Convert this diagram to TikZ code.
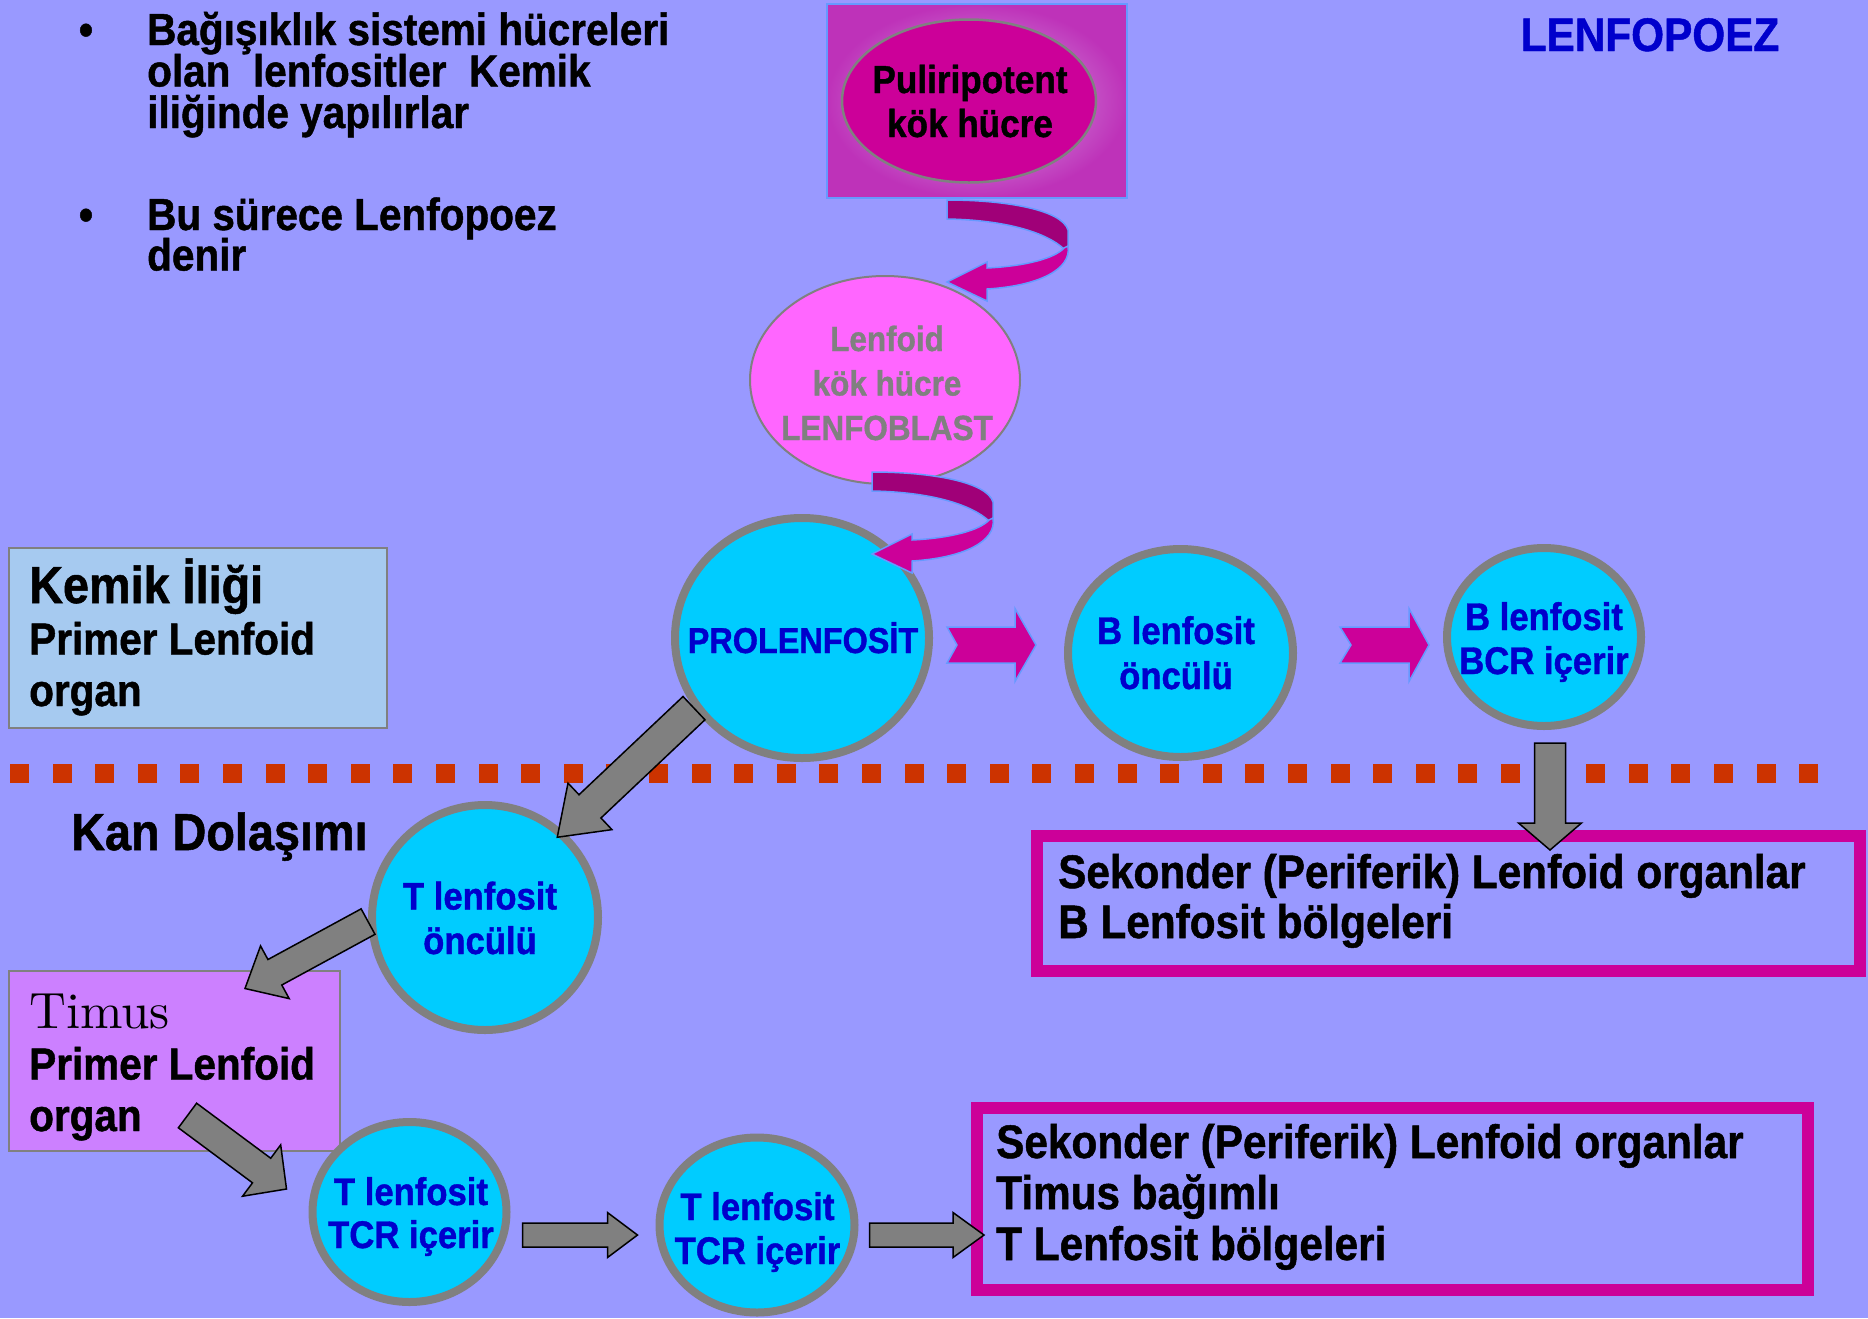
\documentclass[tikz,border=0pt]{standalone}
\usepackage{fontspec}
\setmainfont{Liberation Sans}[FakeStretch=0.9, BoldFeatures={FakeBold=1}]
\newfontfamily\lmfont{lmroman10-regular.otf}
\usepackage{tikz}
\usetikzlibrary{shapes.geometric, calc}

\definecolor{bgblue}{RGB}{153,153,255}
\definecolor{dblue}{RGB}{0,0,204}
\definecolor{cellcyan}{RGB}{0,204,255}
\definecolor{mag}{RGB}{204,0,153}
\definecolor{darkmag}{RGB}{160,0,120}
\definecolor{pinkcell}{RGB}{255,102,255}
\definecolor{cellgray}{RGB}{128,128,128}
\definecolor{dotred}{RGB}{204,51,0}
\definecolor{kemikblue}{RGB}{166,202,240}
\definecolor{timuspurple}{RGB}{204,128,255}
\definecolor{edgeblue}{RGB}{102,153,255}
\definecolor{plurin}{RGB}{215,175,235}
\definecolor{plurout}{RGB}{190,50,185}

% lines with a fixed baseline distance
\newcommand{\ctrlines}[2]{\vtop{\baselineskip=#1\lineskiplimit=-1000pt\lineskip=0pt\halign{\hfil##\hfil\cr#2\crcr}}}
\newcommand{\leftlines}[2]{\vtop{\baselineskip=#1\lineskiplimit=-1000pt\lineskip=0pt\halign{##\hfil\cr#2\crcr}}}

% block arrow: style, from, to, half shaft, half head, head length, notch
\newcommand{\fatarrow}[7][]{%
  \path (#2) coordinate (fatA) (#3) coordinate (fatB);
  \coordinate (fatH) at ($(fatB)!#6!(fatA)$);
  \filldraw[#1] ($(fatA)!#4!90:(fatB)$) -- ($(fatH)!#4!-90:(fatA)$)
    -- ($(fatH)!#5!-90:(fatA)$) -- (fatB) -- ($(fatH)!#5!90:(fatA)$)
    -- ($(fatH)!#4!90:(fatA)$) -- ($(fatA)!#4!-90:(fatB)$)
    -- ($(fatA)!#7!(fatB)$) -- cycle;}

% curled ribbon arrow
\newcommand{\curlarrow}[1]{%
  \begin{scope}[shift={#1}]
    \filldraw[fill=darkmag, draw=edgeblue, line width=1.5pt] (0,0) .. controls (60,0) and (115,10) .. (121,30)
      -- (121,48) -- (117,49) .. controls (100,33) and (60,20) .. (0,19) -- cycle;
    \filldraw[fill=mag, draw=edgeblue, line width=1.5pt] (121,46) .. controls (125,70) and (90,86) .. (40,89)
      -- (40,101) -- (0,82) -- (40,62) -- (40,68) .. controls (80,66) and (108,58) .. (117,48) -- cycle;
  \end{scope}}

\begin{document}
\begin{tikzpicture}[
    x=1pt, y=-1pt,
    every node/.style={inner sep=0pt, font=\bfseries},
    cell/.style={ellipse, draw=cellgray, line width=8pt, fill=cellcyan},
    celltext/.style={anchor=base, text=dblue, font=\fontsize{38.5pt}{44pt}\selectfont\bfseries},
    organbox/.style={rectangle, draw=cellgray, line width=2pt},
    sekbox/.style={rectangle, draw=mag, line width=12pt},
    plaintext/.style={anchor=base west, font=\fontsize{45pt}{45pt}\selectfont\bfseries},
    grayarrow/.style={fill=cellgray, draw=black, line width=1.5pt},
    chev/.style={fill=mag, draw=edgeblue, line width=1.5pt}
  ]
  \useasboundingbox (0,0) rectangle (1868,1318);
  \fill[bgblue] (0,0) rectangle (1868,1318);

  % border between bone marrow and blood
  \foreach \i in {0,...,42}
    \fill[dotred] ({10+42.6*\i},764) rectangle ++(19,19);

  % heading and bullet text
  \node[anchor=base, text=dblue, font=\fontsize{47pt}{47pt}\selectfont\bfseries] (title) at (1650,51) {LENFOPOEZ};
  \node[plaintext, anchor=base] (dot1) at (86,45) {•};
  \node[plaintext] (intro) at (147,45) {\leftlines{41.5pt}{Bağışıklık sistemi hücreleri\cr olan\ \ lenfositler\ \ Kemik\cr iliğinde yapılırlar}};
  \node[plaintext, anchor=base] (dot2) at (86,230) {•};
  \node[plaintext] (process) at (147,230) {\leftlines{40.5pt}{Bu sürece Lenfopoez\cr denir}};

  % stem cells
  \node[rectangle, minimum width=300pt, minimum height=194pt, inner color=plurin, outer color=plurout,
        draw=edgeblue, line width=2pt] (plurbox) at (977,101) {};
  \node[ellipse, draw=cellgray, line width=2.5pt, fill=mag, minimum width=254pt, minimum height=163pt] (plur) at (969,101) {};
  \node[anchor=base, font=\fontsize{39pt}{44pt}\selectfont\bfseries] (plurtext) at (970,93) {\ctrlines{44pt}{Puliripotent\cr kök hücre}};
  \node[ellipse, draw=cellgray, line width=2pt, fill=pinkcell, minimum width=270pt, minimum height=208pt] (lenfoid) at (885,380) {};
  \node[anchor=base, text=cellgray, font=\fontsize{35pt}{44pt}\selectfont\bfseries] (lenfoidtext) at (887,351) {\ctrlines{44.5pt}{Lenfoid\cr kök hücre\cr LENFOBLAST}};

  % organ boxes
  \node[organbox, fill=kemikblue, minimum width=378pt, minimum height=180pt] (kemik) at (197.5,637.5) {};
  \node[plaintext] (kemiktext) at (29,603) {\leftlines{51.5pt}{{\fontsize{52pt}{52pt}\selectfont Kemik İliği}\cr Primer Lenfoid\cr organ}};
  \node[plaintext, font=\fontsize{52pt}{52pt}\selectfont\bfseries] (kan) at (71,850) {Kan Dolaşımı};
  \node[organbox, fill=timuspurple, minimum width=331pt, minimum height=180pt] (timus) at (174,1060.5) {};
  \node[plaintext] (timustext) at (29,1028) {\leftlines{51.5pt}{{\mdseries\lmfont\fontsize{51pt}{51pt}\selectfont Timus}\cr Primer Lenfoid\cr organ}};
  \node[sekbox, minimum width=823pt, minimum height=135pt] (sekB) at (1448.5,903.5) {};
  \node[plaintext, font=\fontsize{47pt}{50pt}\selectfont\bfseries] (sekBtext) at (1058,888) {\leftlines{50pt}{Sekonder (Periferik) Lenfoid organlar\cr B Lenfosit bölgeleri}};
  \node[sekbox, minimum width=831pt, minimum height=182pt] (sekT) at (1392.5,1199) {};
  \node[plaintext, font=\fontsize{47pt}{50pt}\selectfont\bfseries] (sekTtext) at (996,1158) {\leftlines{51pt}{Sekonder (Periferik) Lenfoid organlar\cr Timus bağımlı\cr T Lenfosit bölgeleri}};

  % lymphocyte cells
  \node[cell, minimum width=254pt, minimum height=240pt] (pro) at (802,638) {};
  \node[celltext, font=\fontsize{36pt}{44pt}\selectfont\bfseries] at (803,653) {PROLENFOSİT};
  \node[cell, minimum width=225pt, minimum height=208pt] (bonc) at (1180.5,653) {};
  \node[celltext] at (1176,644) {\ctrlines{45pt}{B lenfosit\cr öncülü}};
  \node[cell, minimum width=194pt, minimum height=178pt] (bcr) at (1544,637) {};
  \node[celltext] at (1544,630) {\ctrlines{44pt}{B lenfosit\cr BCR içerir}};
  \node[cell, minimum width=226pt, minimum height=225pt] (tonc) at (485,917.5) {};
  \node[celltext] at (480,909.5) {\ctrlines{44.5pt}{T lenfosit\cr öncülü}};
  \node[cell, minimum width=194pt, minimum height=180pt] (tcr1) at (409.5,1212) {};
  \node[celltext] at (411,1205) {\ctrlines{43pt}{T lenfosit\cr TCR içerir}};
  \node[cell, minimum width=195pt, minimum height=175pt] (tcr2) at (757,1225) {};
  \node[celltext] at (757.5,1220) {\ctrlines{44pt}{T lenfosit\cr TCR içerir}};

  % curled arrows between stem cells
  \curlarrow{($(plurbox.south)+(-30,1)$)}
  \curlarrow{($(lenfoid.south)+(-13,-13)$)}

  % B line
  \fatarrow[chev]{$(pro.east)+(14,7)$}{$(bonc.west)+(-28,-8)$}{18pt}{36.5pt}{21pt}{10pt}
  \fatarrow[chev]{$(bonc.east)+(43,-8)$}{$(bcr.west)+(-14,8)$}{18pt}{36.5pt}{20pt}{11pt}
  \fatarrow[grayarrow]{$(bcr.south)+(6,13)$}{$(sekB.north)+(101.5,20)$}{15.5pt}{31.5pt}{27pt}{0pt}

  % T line
  \fatarrow[grayarrow]{pro.213}{$(tonc.center)!108pt!(tonc.48)$}{16pt}{32pt}{45pt}{0pt}
  \fatarrow[grayarrow]{tonc.182}{$(timus.north)+(71,19)$}{14.5pt}{30pt}{34pt}{0pt}
  \fatarrow[grayarrow]{$(timus.south east)+(-153,-36)$}{$(tcr1.west)+(-22,-23)$}{15.3pt}{32pt}{31pt}{0pt}
  \fatarrow[grayarrow]{$(tcr1.east)+(12,23)$}{$(tcr2.west)+(-18,10)$}{12pt}{22.5pt}{30pt}{0pt}
  \fatarrow[grayarrow]{$(tcr2.east)+(11,10)$}{$(sekT.west)+(13,36)$}{12pt}{22.5pt}{31pt}{0pt}
\end{tikzpicture}
\end{document}
